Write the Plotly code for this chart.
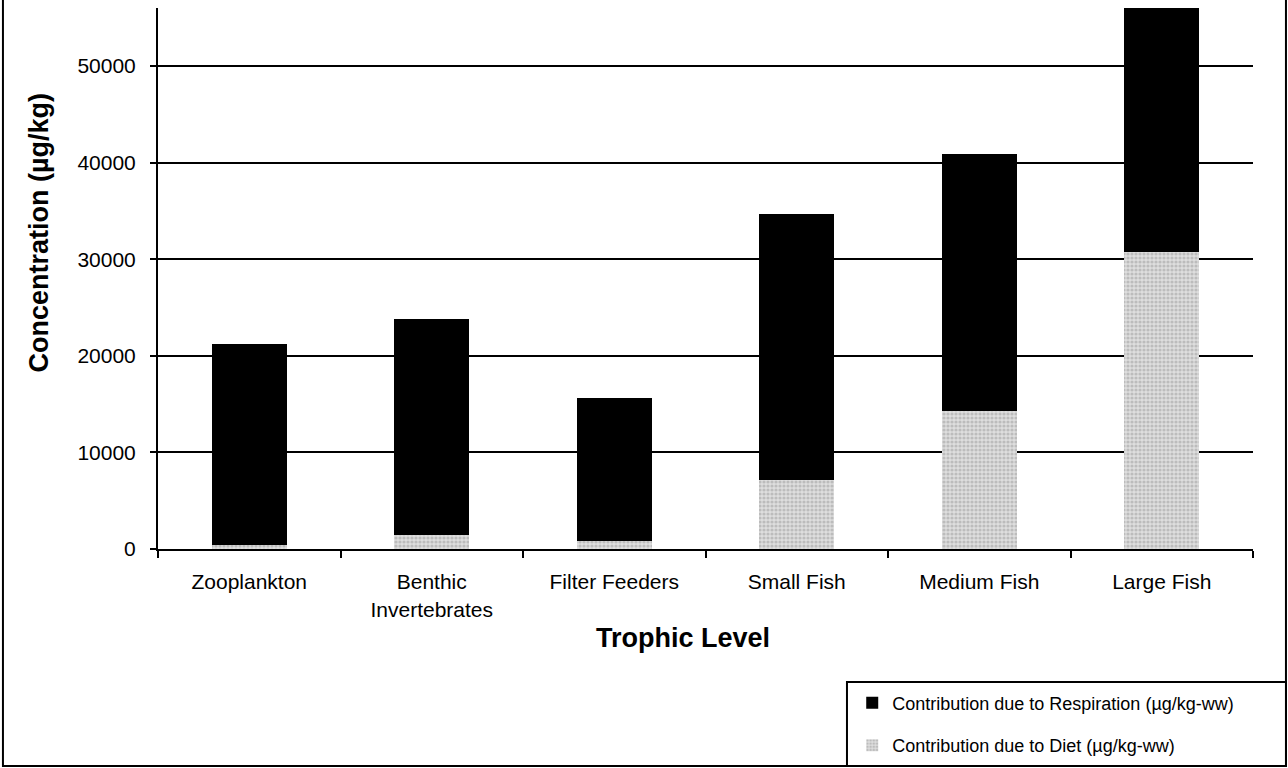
import plotly.graph_objects as go

# trophic levels on the x axis
levels = ["Zooplankton", "Benthic<br>Invertebrates", "Filter Feeders",
          "Small Fish", "Medium Fish", "Large Fish"]

# (ug/kg); bars are stacked, diet at the bottom
diet = [400, 1450, 830, 7150, 14300, 30700]
respiration = [20800, 22350, 14800, 27550, 26600, 26000]

y_ticks = [0, 10000, 20000, 30000, 40000, 50000]
y_labels = [str(v) for v in y_ticks]

font_family = "Arial, Liberation Sans, sans-serif"

fig = go.Figure()

fig.add_trace(go.Bar(
    x=levels, y=diet,
    name="Contribution due to Diet (µg/kg-ww)",
    legendgroup="b", legendrank=2,
    marker=dict(color="#cfcfcf", line=dict(width=0),
                pattern=dict(shape=".", fgcolor="#9a9a9a", bgcolor="#dedede",
                             size=4, solidity=0.5)),
))
fig.add_trace(go.Bar(
    x=levels, y=respiration,
    name="Contribution due to Respiration (µg/kg-ww)",
    legendgroup="a", legendrank=1,
    marker=dict(color="black", line=dict(width=0)),
))

fig.update_layout(
    barmode="stack",
    bargap=0.59,
    width=1288, height=768,
    margin=dict(l=158, r=35, t=8, b=219, autoexpand=False),
    paper_bgcolor="white",
    plot_bgcolor="white",
    font=dict(family=font_family, color="black", size=21),
    showlegend=True,
    legend=dict(
        x=0.634, y=-0.2506, xanchor="left", yanchor="top",
        traceorder="grouped", tracegroupgap=16,
        borderwidth=0, bgcolor="rgba(0,0,0,0)",
        font=dict(size=18, family=font_family),
        itemwidth=30,
    ),
)

fig.update_xaxes(
    showline=True, linecolor="black", linewidth=2,
    ticks="outside", tickson="boundaries", ticklen=7, tickwidth=2,
    tickcolor="black", showgrid=False,
    ticklabelstandoff=13,
    tickfont=dict(size=21),
)
fig.update_yaxes(
    range=[0, 56000], tickvals=y_ticks, ticktext=y_labels,
    showline=True, linecolor="black", linewidth=2,
    ticks="outside", ticklen=6, tickwidth=2, tickcolor="black",
    showgrid=True, gridcolor="black", gridwidth=2,
    zeroline=False,
    ticklabelstandoff=10,
    tickfont=dict(size=21),
)

# axis titles placed by hand
fig.add_annotation(text="<b>Trophic Level</b>", xref="paper", yref="paper",
                   x=0.4795, y=-0.1645, xanchor="center", yanchor="middle",
                   showarrow=False, font=dict(size=27, family=font_family))
fig.add_annotation(text="<b>Concentration (µg/kg)</b>", xref="paper", yref="paper",
                   x=-0.1087, y=0.585, xanchor="center", yanchor="middle",
                   showarrow=False, textangle=-90,
                   font=dict(size=27, family=font_family))

# outer frame of the chart and the legend box
fig.add_shape(type="rect", xref="paper", yref="paper",
              x0=-0.1416, x1=1.0301, y0=-0.4011, y1=1.1,
              line=dict(color="black", width=2), layer="below")
fig.add_shape(type="rect", xref="paper", yref="paper",
              x0=0.6292, x1=1.0301, y0=-0.4011, y1=-0.2458,
              line=dict(color="black", width=2), fillcolor="white", layer="below")

fig.write_html("out.html", config={"displayModeBar": False},
               post_script="document.body.style.margin='0px';")
